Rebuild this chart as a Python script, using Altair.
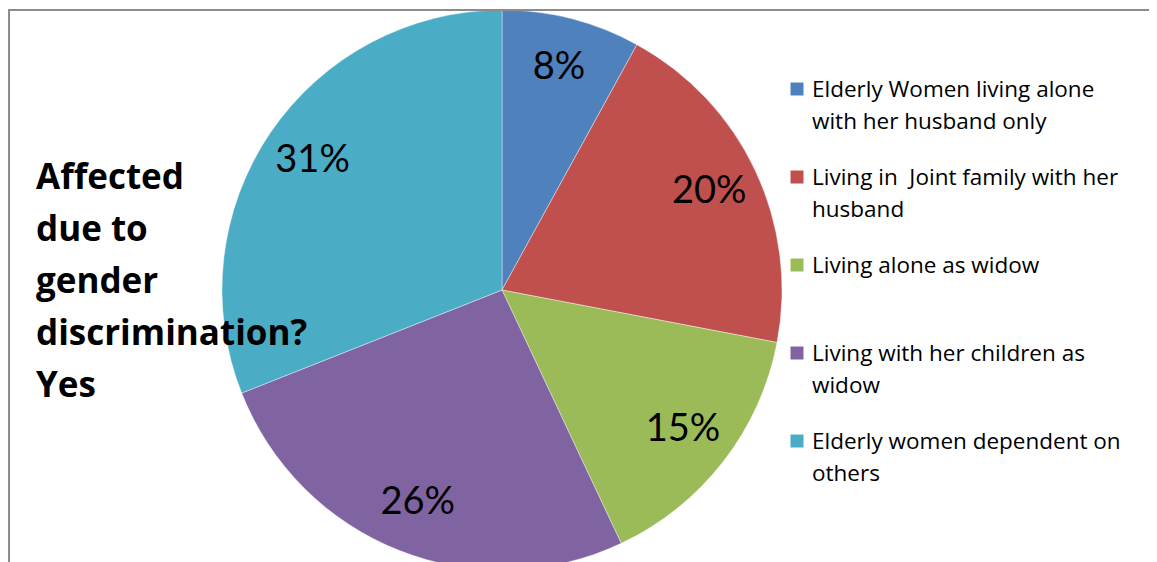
import altair as alt
import pandas as pd

categories = [
    "Elderly Women living alone with her husband only",
    "Living in  Joint family with her husband",
    "Living alone as widow",
    "Living with her children as widow",
    "Elderly women dependent on others",
]
legend_lines = [
    ["Elderly Women living alone", "with her husband only"],
    ["Living in \u00a0Joint family with her", "husband"],
    ["Living alone as widow"],
    ["Living with her children as", "widow"],
    ["Elderly women dependent on", "others"],
]
values = [8, 20, 15, 26, 31]
colors = ["#4F81BD", "#C0504D", "#9BBB59", "#8064A2", "#4BACC6"]
title_lines = ["Affected", "due to", "gender", "discrimination?", "Yes"]

W, H = 1141, 554
CX, CY = 494, 282

df = pd.DataFrame({
    "cat": categories,
    "value": values,
    "order": list(range(len(values))),
    "label": [f"{v}%" for v in values],
    "legend": ["|".join(l) for l in legend_lines],
})
title_df = pd.DataFrame({"t": ["|".join(title_lines)]})
one = pd.DataFrame({"a": [0]})

color = alt.Color("cat:N", scale=alt.Scale(domain=categories, range=colors), legend=None)
base = alt.Chart(df)

pie = base.mark_arc(radius=280, stroke="white", strokeWidth=0.4).encode(
    theta=alt.Theta("value:Q", stack=True),
    order=alt.Order("order:Q"),
    color=color,
    x=alt.value(CX),
    y=alt.value(CY),
)

labels = base.mark_text(radius=229, font="Lato", fontSize=38, color="black").encode(
    theta=alt.Theta("value:Q", stack=True),
    order=alt.Order("order:Q"),
    text="label:N",
    x=alt.value(CX),
    y=alt.value(CY),
)

ysc = alt.Y("cat:N", sort=categories, axis=None, scale=alt.Scale(range=[81, 433], padding=0))

leg_sq = base.mark_square(size=169, opacity=1).encode(
    x=alt.value(789),
    y=ysc,
    color=color,
)
leg_tx = base.mark_text(
    align="left", baseline="alphabetic", dy=8, lineBreak="|", lineHeight=32,
    font="Open Sans", fontSize=22.5, color="black",
).encode(
    x=alt.value(804),
    y=ysc,
    text="legend:N",
)

title = alt.Chart(title_df).mark_text(
    align="left", baseline="alphabetic", lineBreak="|", lineHeight=52,
    font="Open Sans", fontSize=35, fontWeight="bold", color="black",
).encode(x=alt.value(28), y=alt.value(181), text="t:N")

top_rule = alt.Chart(one).mark_rule(color="#8c8c8c", strokeWidth=2).encode(
    x=alt.value(0), x2=alt.value(W), y=alt.value(2)
)
left_rule = alt.Chart(one).mark_rule(color="#8c8c8c", strokeWidth=2).encode(
    x=alt.value(1), y=alt.value(1), y2=alt.value(H)
)

chart = alt.layer(pie, labels, leg_sq, leg_tx, title, top_rule, left_rule).properties(
    width=W, height=H, padding=0, autosize="none", background="white"
).configure_view(stroke=None)

chart.save("out.html", embed_options={"renderer": "svg", "actions": False})
